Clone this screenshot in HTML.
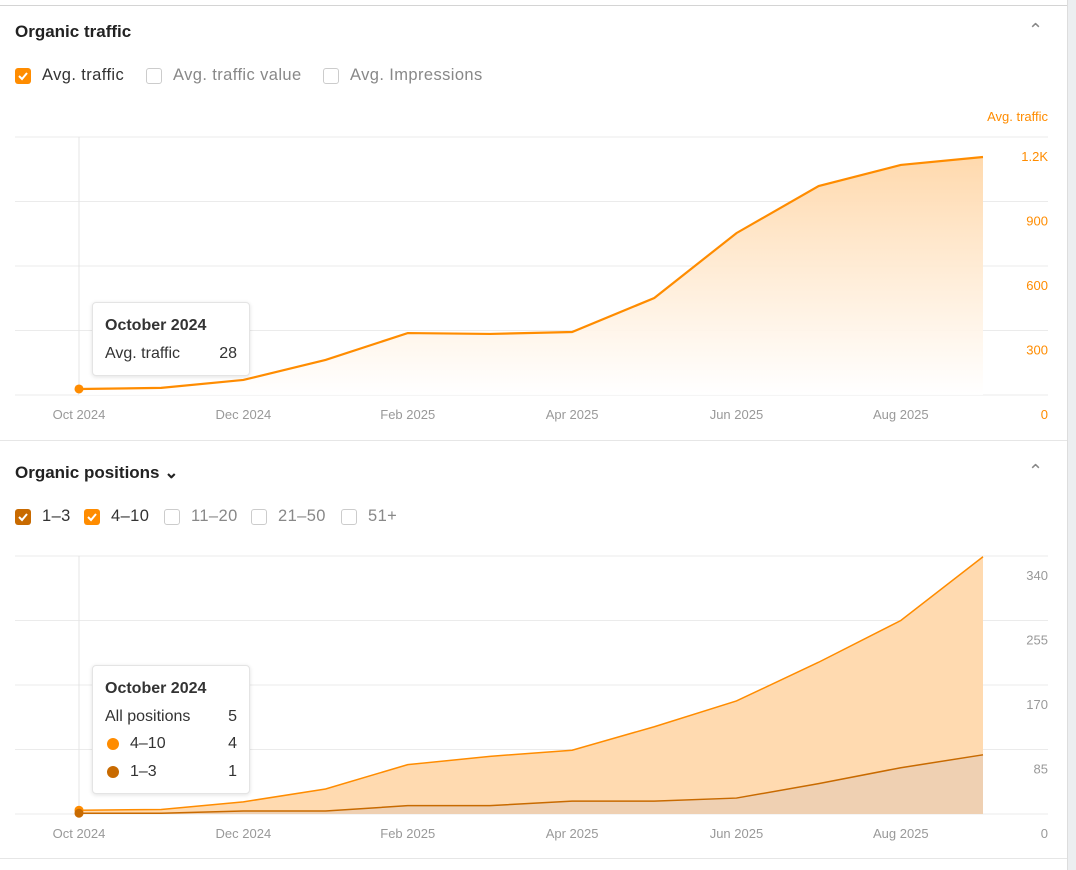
<!DOCTYPE html>
<html><head><meta charset="utf-8"><style>
body{margin:0;width:1076px;height:870px;background:#fff;font-family:"Liberation Sans",sans-serif;position:relative;overflow:hidden}
.t{position:absolute;white-space:nowrap}
.h{font-weight:bold;font-size:17px;color:#222}
.cb{position:absolute;width:16px;height:16px;border-radius:3px;box-sizing:border-box}
.on{background:#ff8c00}.dk{background:#c86a00}
.off{border:1.5px solid #ccc;background:#fff}
.cb svg{position:absolute;left:2px;top:2px}
.lbl{font-size:16.5px;color:#333;letter-spacing:0.4px}.lo{font-size:16.5px;color:#888;letter-spacing:0.4px}
.tip{position:absolute;background:#fff;border:1px solid #e4e4e4;border-radius:4px;box-shadow:0 1px 4px rgba(0,0,0,.12);font-size:16px;color:#333}
</style></head><body>
<div style="position:absolute;left:1067px;top:0;width:9px;height:870px;background:#eceef0;border-left:1px solid #ddd"></div>
<div style="position:absolute;left:0;top:5px;width:1067px;height:1px;background:#d4d4d4"></div>
<div style="position:absolute;left:0;top:440px;width:1067px;height:1px;background:#e6e6e6"></div>
<div style="position:absolute;left:0;top:858px;width:1067px;height:1px;background:#e6e6e6"></div>

<div class="t h" style="left:15px;top:22px">Organic traffic</div>
<div class="t" style="left:1028px;top:20px;color:#888;font-size:18px">&#8963;</div>
<div class="cb on" style="left:15px;top:68px"><svg width="12" height="12"><path d="M2 6l3 3 5-6" stroke="#fff" stroke-width="2" fill="none"/></svg></div>
<div class="t lbl" style="left:42px;top:66px">Avg. traffic</div>
<div class="cb off" style="left:146px;top:68px"></div>
<div class="t lo" style="left:173px;top:66px">Avg. traffic value</div>
<div class="cb off" style="left:323px;top:68px"></div>
<div class="t lo" style="left:350px;top:66px">Avg. Impressions</div>

<div class="t h" style="left:15px;top:463px">Organic positions &#8964;</div>
<div class="t" style="left:1028px;top:461px;color:#888;font-size:18px">&#8963;</div>
<div class="cb dk" style="left:15px;top:509px"><svg width="12" height="12"><path d="M2 6l3 3 5-6" stroke="#fff" stroke-width="2" fill="none"/></svg></div>
<div class="t lbl" style="left:42px;top:507px">1–3</div>
<div class="cb on" style="left:84px;top:509px"><svg width="12" height="12"><path d="M2 6l3 3 5-6" stroke="#fff" stroke-width="2" fill="none"/></svg></div>
<div class="t lbl" style="left:111px;top:507px">4–10</div>
<div class="cb off" style="left:164px;top:509px"></div>
<div class="t lo" style="left:191px;top:507px">11–20</div>
<div class="cb off" style="left:251px;top:509px"></div>
<div class="t lo" style="left:278px;top:507px">21–50</div>
<div class="cb off" style="left:341px;top:509px"></div>
<div class="t lo" style="left:368px;top:507px">51+</div>

<svg id="c" width="1076" height="870" style="position:absolute;left:0;top:0">
<defs><linearGradient id="g1" x1="0" y1="0" x2="0" y2="1"><stop offset="0" stop-color="#ffd9ad"/><stop offset="1" stop-color="#fff" stop-opacity="0.9"/></linearGradient></defs>
</svg>

<div class="tip" style="left:92px;top:302px;width:156px;height:72px">
<div class="t" style="left:12px;top:14px;font-weight:bold">October 2024</div>
<div class="t" style="left:12px;top:42px">Avg. traffic</div><div class="t" style="right:12px;top:42px">28</div></div>
<div class="tip" style="left:92px;top:665px;width:156px;height:127px">
<div class="t" style="left:12px;top:14px;font-weight:bold">October 2024</div>
<div class="t" style="left:12px;top:42px">All positions</div><div class="t" style="right:12px;top:42px">5</div>
<div class="t" style="left:14px;top:72px;width:12px;height:12px;border-radius:6px;background:#ff8c00"></div>
<div class="t" style="left:37px;top:69px">4–10</div><div class="t" style="right:12px;top:69px">4</div>
<div class="t" style="left:14px;top:100px;width:12px;height:12px;border-radius:6px;background:#c86a00"></div>
<div class="t" style="left:37px;top:97px">1–3</div><div class="t" style="right:12px;top:97px">1</div></div>

<script>
const months=["Oct 2024","Nov 2024","Dec 2024","Jan 2025","Feb 2025","Mar 2025","Apr 2025","May 2025","Jun 2025","Jul 2025","Aug 2025","Sep 2025"];
const traffic=[28,33,70,163,288,284,293,451,753,972,1070,1107];
const pos13=[1,1,4,4,11,11,17,17,21,40,61,78];
const pos410=[4,5,12,29,54,65,67,98,128,160,194,261];
const trafficTicks=[0,300,600,900,1200];
const trafficTickLabels=["0","300","600","900","1.2K"];
const posTicks=[0,85,170,255,340];
const posTickLabels=["0","85","170","255","340"];
const xLabelIdx=[0,2,4,6,8,10];

const svg=document.getElementById('c');const NS='http://www.w3.org/2000/svg';
function mk(t,a){const e=document.createElementNS(NS,t);for(const k in a)e.setAttribute(k,a[k]);svg.appendChild(e);return e;}
const x=i=>79+i*(983-79)/11;
function chart(y0,h,max,ticks,labels,name){
  const y=v=>y0-v/max*h;
  ticks.forEach((t,i)=>{
    const l=mk('line',{x1:15,x2:1048,y1:y(t),y2:y(t),stroke:'#ebebeb'});
    
    
    const tx=mk('text',{x:1048,y:y(t)+24,'text-anchor':'end','font-size':13,fill:name=='traffic'?'#ff8c00':'#999','font-family':'Liberation Sans'});
    tx.textContent=labels[i];
    
    
  });
  const vl=mk('line',{x1:x(0),x2:x(0),y1:y0-h,y2:y0,stroke:'#e4e4e4'});
  
  
  xLabelIdx.forEach(i=>{
    const tx=mk('text',{x:x(i),y:y0+24,'text-anchor':'middle','font-size':13,fill:'#999','font-family':'Liberation Sans'});
    tx.textContent=months[i].replace(/^(\w{3})\w*/,'$1');
    
    
  });
  return y;
}
const yt=chart(395,258,1200,trafficTicks,trafficTickLabels,'traffic');
const tl=mk('text',{x:1048,y:121,'text-anchor':'end','font-size':13,fill:'#ff8c00','font-family':'Liberation Sans'});tl.textContent='Avg. traffic';


let pts=traffic.map((v,i)=>x(i)+','+yt(v)).join(' ');
const ta=mk('polygon',{points:x(0)+','+yt(0)+' '+pts+' '+x(11)+','+yt(0),fill:'url(#g1)'});


const tline=mk('polyline',{points:pts,fill:'none',stroke:'#ff8c00','stroke-width':2.2});


const td=mk('circle',{cx:x(0),cy:yt(traffic[0]),r:4.5,fill:'#ff8c00'});



const yp=chart(814,258,340,posTicks,posTickLabels,'positions');
const tot=pos410.map((v,i)=>v+pos13[i]);
const p1=pos13.map((v,i)=>x(i)+','+yp(v)).join(' ');
const p2=tot.map((v,i)=>x(i)+','+yp(v)).join(' ');
const p1r=pos13.map((v,i)=>x(i)+','+yp(v)).reverse().join(' ');
const a2=mk('polygon',{points:p2+' '+p1r,fill:'#ffdab0'});


const a1=mk('polygon',{points:x(0)+','+yp(0)+' '+p1+' '+x(11)+','+yp(0),fill:'#efd0b2'});


const l2=mk('polyline',{points:p2,fill:'none',stroke:'#ff8c00','stroke-width':1.5});


const l1=mk('polyline',{points:p1,fill:'none',stroke:'#c86a00','stroke-width':1.5});


const d2=mk('circle',{cx:x(0),cy:yp(tot[0]),r:4.5,fill:'#ff8c00'});


const d1=mk('circle',{cx:x(0),cy:yp(pos13[0]),r:4.5,fill:'#c86a00'});


</script>
</body></html>
